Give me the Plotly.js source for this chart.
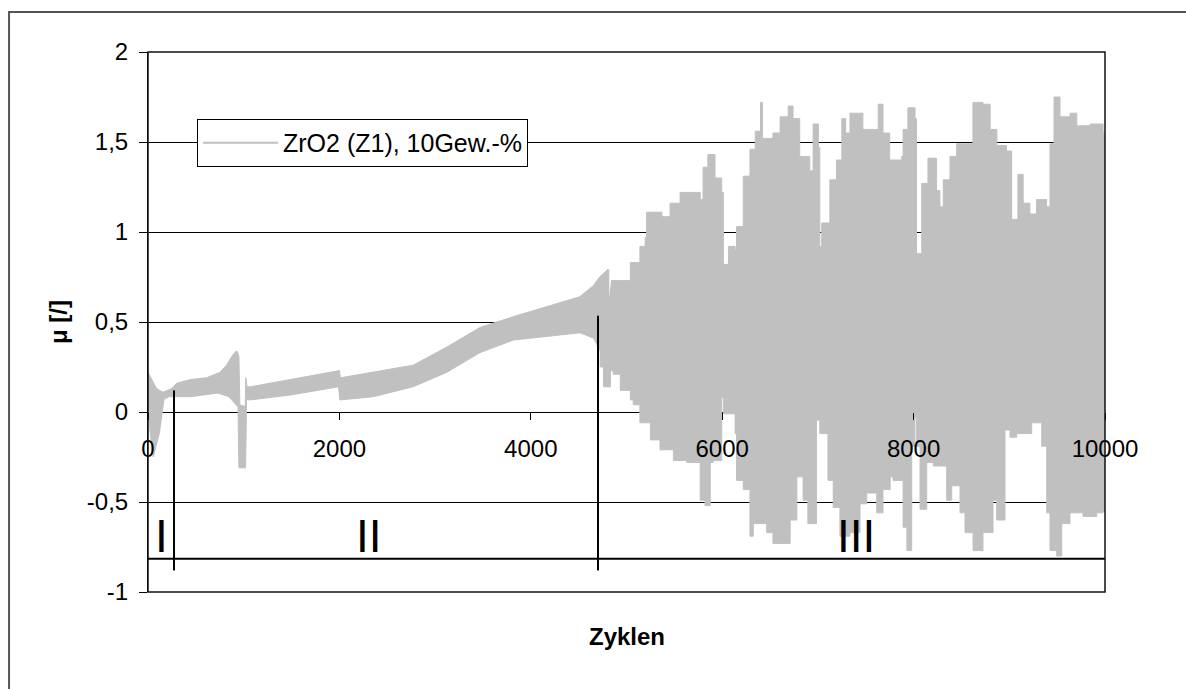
<!DOCTYPE html>
<html>
<head>
<meta charset="utf-8">
<script src="https://cdn.plot.ly/plotly-3.0.1.min.js"></script>
<style>html,body{margin:0;padding:0;background:#fff;}#chart{width:1186px;height:689px;}</style>
</head>
<body>
<div id="chart"></div>
<script>
// Series name
const seriesName = "ZrO2 (Z1), 10Gew.-%";

// Upper envelope of the friction-coefficient band (Zyklen, mu)
const upperX = [0,40,90,157,247,300,440,610,750,820,890,927,950,960,1015,1022,1035,1070,1500,2000,2010,2420,2770,3120,3470,3820,4170,4510,4650,4720,4800,4815,4845,4965,5040,5140,5195,5210,5370,5455,5560,5770,5800,5850,5925,5995,6012,6065,6135,6150,6220,6290,6345,6400,6420,6530,6605,6690,6740,6810,6915,6950,7005,7020,7040,7110,7125,7195,7250,7290,7335,7420,7470,7630,7680,7750,7875,7890,7940,8015,8030,8085,8150,8240,8275,8310,8380,8450,8620,8725,8800,8870,8970,9025,9090,9145,9215,9285,9390,9425,9467,9530,9635,9705,9845,9980,10000];
const upperY = [0.22,0.18,0.13,0.11,0.13,0.16,0.18,0.19,0.22,0.26,0.32,0.34,0.31,0.04,0.03,0.19,0.14,0.14,0.18,0.23,0.19,0.23,0.26,0.36,0.47,0.53,0.585,0.64,0.70,0.75,0.79,0.60,0.73,0.73,0.83,0.92,0.97,1.11,1.085,1.16,1.22,1.18,1.36,1.43,1.30,1.22,0.82,0.92,0.90,1.03,1.31,1.46,1.56,1.72,1.52,1.55,1.64,1.70,1.63,1.42,1.34,1.60,1.47,0.92,1.05,1.05,1.29,1.40,1.63,1.55,1.66,1.66,1.57,1.71,1.55,1.40,1.42,1.57,1.69,1.63,0.88,1.27,1.41,1.23,1.14,1.29,1.42,1.49,1.72,1.71,1.57,1.48,1.45,1.07,1.32,1.16,1.10,1.18,1.14,1.49,1.75,1.64,1.66,1.59,1.60,1.55,1.52];

// Lower envelope of the band
const lowerX = [0,20,55,80,118,167,220,440,730,845,920,940,950,1020,1030,1066,1485,1990,2005,2355,2630,2770,3120,3470,3820,4165,4515,4655,4725,4760,4830,4860,4935,5040,5070,5140,5250,5350,5490,5630,5770,5820,5875,5905,5995,6015,6135,6150,6220,6290,6325,6465,6530,6710,6780,6845,6895,6985,7020,7105,7160,7230,7335,7440,7510,7615,7680,7755,7785,7890,7930,7980,8014,8032,8067,8137,8206,8346,8398,8485,8537,8621,8725,8830,8868,8955,9007,9077,9234,9339,9391,9425,9495,9548,9634,9770,9913,9979,10000];
const lowerY = [0.10,-0.10,-0.25,-0.20,-0.12,0.07,0.085,0.085,0.105,0.085,0.04,0.03,-0.31,-0.31,0.07,0.067,0.094,0.14,0.067,0.085,0.12,0.14,0.22,0.33,0.40,0.42,0.44,0.41,0.34,0.25,0.14,0.23,0.21,0.12,0.067,0.04,-0.06,-0.155,-0.21,-0.27,-0.28,-0.49,-0.52,-0.28,-0.27,0.08,-0.01,-0.12,-0.38,-0.43,-0.69,-0.62,-0.67,-0.73,-0.60,-0.36,-0.49,-0.62,-0.045,-0.12,-0.38,-0.53,-0.69,-0.67,-0.51,-0.45,-0.56,-0.43,-0.36,-0.38,-0.64,-0.77,-0.19,-0.03,-0.19,-0.54,-0.28,-0.30,-0.49,-0.41,-0.56,-0.67,-0.77,-0.67,-0.49,-0.60,-0.10,-0.14,-0.12,-0.06,-0.19,-0.56,-0.77,-0.80,-0.62,-0.56,-0.58,-0.56,-0.55];

// Axis ticks
const xTickVals = [0,2000,4000,6000,8000,10000];
const xTickText = ["0","2000","4000","6000","8000","10000"];
const yTickVals = [-1,-0.5,0,0.5,1,1.5,2];
const yTickText = ["-1","-0,5","0","0,5","1","1,5","2"];

// Phase markers (boundaries and labels)
const phaseLineX = [272, 4702];
const phaseLineTop = [0.12, 0.535];
const phaseLineBottom = -0.88;
const phaseBaseY = -0.815;
const phaseLabels = ["I","II","III"];
const phaseLabelX = [136, 2309, 7398];
const phaseLabelY = -0.69;
const stepStart = 4720;   // from here the band is drawn with stepped (vertical) edges

const grey = "#c0c0c0";
const fontFam = "Arial, 'Liberation Sans', sans-serif";

function band(xs1, ys1, xs2, ys2, keep) {
  const ux = [], uy = [], lx = [], ly = [];
  xs1.forEach((x, i) => { if (keep(x)) { ux.push(x); uy.push(ys1[i]); } });
  xs2.forEach((x, i) => { if (keep(x)) { lx.push(x); ly.push(ys2[i]); } });
  return {x: ux.concat(lx.reverse()), y: uy.concat(ly.reverse())};
}
const smooth = band(upperX, upperY, lowerX, lowerY, x => x <= 4845);
const stepped = band(upperX, upperY, lowerX, lowerY, x => x >= stepStart);

const traces = [
  {x: smooth.x, y: smooth.y, type: "scatter", mode: "lines", fill: "toself",
   fillcolor: grey, line: {color: grey, width: 1}, showlegend: false, hoverinfo: "skip"},
  {x: stepped.x, y: stepped.y, type: "scatter", mode: "lines", fill: "toself",
   fillcolor: grey, line: {color: grey, width: 1, shape: "hv"}, showlegend: false, hoverinfo: "skip"},
  {x: [null], y: [null], type: "scatter", mode: "lines", name: seriesName,
   line: {color: grey, width: 2}, showlegend: true}
];

const shapes = [];
phaseLineX.forEach((x, i) => shapes.push({type: "line", xref: "x", yref: "y", x0: x, x1: x,
  y0: phaseLineTop[i], y1: phaseLineBottom, line: {color: "#000", width: 2}, layer: "above"}));
shapes.push({type: "line", xref: "paper", yref: "y", x0: 0, x1: 1, y0: phaseBaseY, y1: phaseBaseY,
  line: {color: "#000", width: 2}, layer: "above"});
// plot-area frame
shapes.push({type: "rect", xref: "paper", yref: "paper", x0: 0, x1: 1, y0: 0, y1: 1,
  line: {color: "#111", width: 1.5}, layer: "above"});
// chart-area frame (partially outside image)
shapes.push({type: "rect", xref: "paper", yref: "paper", x0: -0.1452, x1: 1.0888, y0: -0.19, y1: 1.074,
  line: {color: "#555", width: 2}, layer: "below"});

const annotations = phaseLabels.map((t, i) => ({text: t, x: phaseLabelX[i], y: phaseLabelY,
  xref: "x", yref: "y", showarrow: false, font: {family: fontFam, size: 46, color: "#000"}}));
annotations.push({text: "<b>Zyklen</b>", xref: "paper", yref: "paper", x: 0.5, y: -0.0833,
  xanchor: "center", yanchor: "middle", showarrow: false, font: {family: fontFam, size: 24, color: "#000"}});
annotations.push({text: "<b>μ [/]</b>", xref: "paper", yref: "paper", x: -0.094, y: 0.5,
  xanchor: "center", yanchor: "middle", textangle: -90, showarrow: false, font: {family: fontFam, size: 24, color: "#000"}});

const layout = {
  width: 1186, height: 689,
  margin: {l: 148, r: 81, t: 52, b: 97},
  paper_bgcolor: "#fff", plot_bgcolor: "#fff",
  font: {family: fontFam, size: 24, color: "#000"},
  showlegend: true,
  legend: {x: 0.0512, y: 0.876, xanchor: "left", yanchor: "top", bgcolor: "#fff",
    bordercolor: "#000", borderwidth: 1, font: {family: fontFam, size: 25, color: "#000"}, itemwidth: 75},
  xaxis: {range: [0, 10000], anchor: "free", position: 1/3, showline: false, showgrid: false, zeroline: false,
    tickvals: xTickVals, ticktext: xTickText, ticks: "outside", ticklen: 7, tickcolor: "#000", tickwidth: 1,
    ticklabelstandoff: 8,
    tickfont: {family: fontFam, size: 24, color: "#000"}, layer: "above traces"},
  yaxis: {range: [-1, 2], domain: [0, 1], showline: true, linecolor: "#000", linewidth: 1,
    showgrid: true, gridcolor: "#000", gridwidth: 1, zeroline: true, zerolinecolor: "#000", zerolinewidth: 1,
    tickvals: yTickVals, ticktext: yTickText, ticks: "outside", ticklen: 8, tickcolor: "#000",
    ticklabelstandoff: 6,
    tickfont: {family: fontFam, size: 24, color: "#000"}},
  shapes: shapes,
  annotations: annotations
};

Plotly.newPlot("chart", traces, layout, {displayModeBar: false, staticPlot: true});
</script>
</body>
</html>
